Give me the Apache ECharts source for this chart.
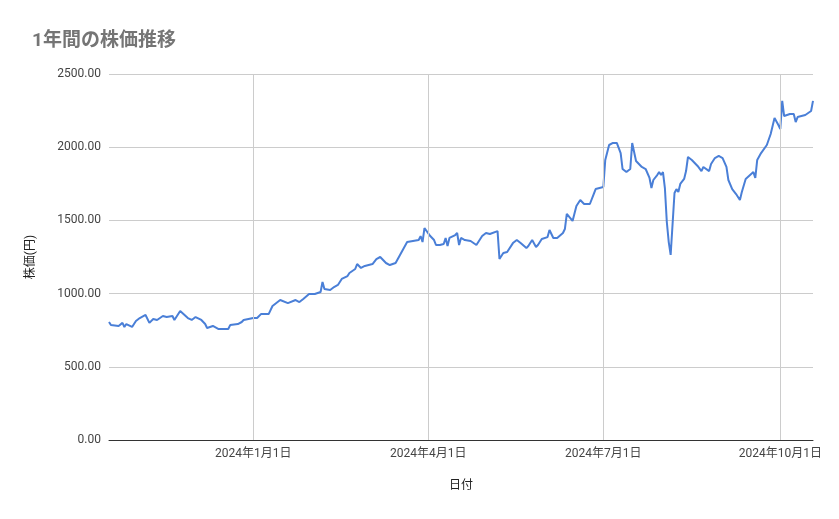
<!DOCTYPE html>
<html>
<head>
<meta charset="utf-8">
<script src="https://cdn.jsdelivr.net/npm/echarts@6/dist/echarts.min.js"></script>
<style>html,body{margin:0;background:#fff}#chart{width:839px;height:519px}</style>
</head>
<body>
<div id="chart"></div>
<script>
// 2023年10月18日からの経過日数と終値
const startDate = '2023-10-18'
const days = [0,1,5,7,8,9,12,14,16,19,21,23,25,28,30,33,34,37,41,43,45,48,50,51,54,57,62,63,67,69,70,75,77,79,83,85,89,93,97,99,101,104,107,110,111,112,115,117,119,121,124,125,128,129,131,133,137,139,141,144,146,149,151,153,155,158,161,162,163,164,167,169,170,172,174,175,176,177,180,181,182,183,185,188,189,191,194,196,198,202,203,205,207,210,211,212,214,217,218,220,222,223,225,228,229,231,233,236,237,238,241,243,245,247,250,252,253,255,257,258,260,262,264,266,267,269,271,272,274,277,279,281,282,283,285,286,287,288,289,290,291,292,294,295,296,297,299,300,301,302,303,306,308,309,312,313,315,317,319,321,322,324,326,328,329,331,332,335,336,337,339,342,344,346,348,349,350,351,352,354,356,357,358,362,365,366]
const prices = [806,785,779,800,772,792,772,813,833,854,800,826,820,847,840,847,820,881,833,820,840,820,792,765,779,758,758,785,792,806,820,833,833,860,860,915,956,935,956,942,963,997,997,1011,1079,1031,1025,1045,1059,1100,1120,1141,1168,1202,1175,1189,1202,1236,1250,1209,1195,1209,1257,1305,1352,1359,1366,1393,1352,1448,1393,1366,1332,1332,1339,1380,1325,1380,1400,1414,1332,1380,1366,1359,1352,1332,1393,1414,1407,1427,1236,1277,1284,1345,1339,1366,1345,1311,1325,1366,1318,1332,1373,1386,1434,1380,1380,1414,1441,1544,1496,1598,1639,1612,1612,1680,1714,1721,1728,1913,2015,2029,2029,1960,1851,1830,1851,2029,1906,1865,1851,1790,1721,1776,1810,1830,1810,1830,1721,1489,1352,1264,1687,1714,1694,1749,1783,1837,1933,1933,1913,1872,1837,1865,1837,1885,1926,1940,1926,1865,1776,1714,1680,1639,1694,1783,1790,1830,1790,1913,1960,2015,2090,2199,2151,2124,2316,2213,2213,2227,2227,2172,2206,2220,2247,2316]
const tickDays = [75, 166, 257, 349]
const tickLabels = ['2024年1月1日', '2024年4月1日', '2024年7月1日', '2024年10月1日']

const font = 'Roboto, "Noto Sans CJK JP", sans-serif'
const chart = echarts.init(document.getElementById('chart'))
chart.setOption({
  animation: false,
  title: {
    text: '1年間の株価推移', left: 27, top: 27,
    textStyle: { color: '#757575', fontSize: 19, fontWeight: 'bold', fontFamily: font }
  },
  grid: { left: 109, right: 26, top: 74, bottom: 79 },
  xAxis: {
    type: 'value', min: 0, max: 366,
    name: '日付', nameLocation: 'middle', nameGap: 40,
    nameTextStyle: { color: '#222', fontSize: 12, fontFamily: font },
    axisLine: { lineStyle: { color: '#333' } },
    axisTick: { show: false },
    axisLabel: {
      customValues: tickDays, color: '#444', fontSize: 12, fontFamily: font, margin: 8,
      formatter: v => tickLabels[tickDays.indexOf(v)] || ''
    },
    splitLine: { show: false }
  },
  yAxis: {
    type: 'value', min: 0, max: 2500, interval: 500,
    name: '株価(円)', nameLocation: 'middle', nameGap: 72, nameRotate: 90,
    nameTextStyle: { color: '#222', fontSize: 12, fontFamily: font },
    axisLine: { show: false }, axisTick: { show: false },
    axisLabel: { color: '#444', fontSize: 12, fontFamily: font, formatter: v => v.toFixed(2) },
    splitLine: { lineStyle: { color: '#ccc' } }
  },
  series: [
    {
      type: 'line', data: days.map((d, i) => [d, prices[i]]),
      showSymbol: false, lineStyle: { color: '#4a7fd7', width: 2 },
      markLine: {
        silent: true, symbol: 'none', label: { show: false },
        lineStyle: { color: '#ccc', type: 'solid', width: 1 },
        data: tickDays.map(d => ({ xAxis: d }))
      },
      z: 3
    }
  ]
})
</script>
</body>
</html>
